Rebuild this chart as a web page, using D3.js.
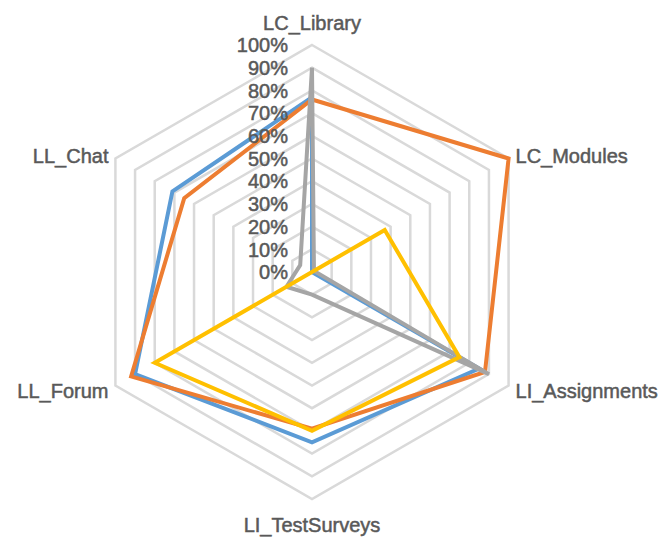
<!DOCTYPE html>
<html>
<head>
<meta charset="utf-8">
<script src="https://cdn.jsdelivr.net/npm/d3@7"></script>
<style>
  body { margin: 0; background: #fff; }
  text { font-family: "Liberation Sans", Arial, sans-serif; fill: #595959; stroke: #595959; stroke-width: 0.5px; }
</style>
</head>
<body>
<div id="chart-area"></div>
<script>
// radar of usage per tool
var categories = ["LC_Library", "LC_Modules", "LI_Assignments", "LI_TestSurveys", "LL_Forum", "LL_Chat"];
var blueValues   = [0.77, 0.00, 0.85, 0.75, 0.90, 0.71];
var orangeValues = [0.76, 1.00, 0.88, 0.69, 0.92, 0.65];
var grayValues   = [0.90, 0.01, 0.90, 0.10, 0.13, 0.06];
var yellowValues = [0.00, 0.37, 0.75, 0.70, 0.80, 0.00];
var tickValues = [0, 0.1, 0.2, 0.3, 0.4, 0.5, 0.6, 0.7, 0.8, 0.9, 1];

var series = [
	{ name: "blue", values: blueValues, color: "#5b9bd5" },
	{ name: "orange", values: orangeValues, color: "#ed7d31" },
	{ name: "gray", values: grayValues, color: "#a5a5a5" },
	{ name: "yellow", values: yellowValues, color: "#ffc000" }
];

var width = 671, height = 538;
var cx = 312, cy = 272, radius = 227;

let svg = d3.select("#chart-area").append("svg")
	.attr("width", width)
	.attr("height", height)

var g = svg.append("g")
	.attr("transform", "translate(" + cx + "," + cy + ")");

var r = d3.scaleLinear().domain([0, 1]).range([0, radius]);
var angle = d3.scalePoint().domain(categories).range([0, 2 * Math.PI * 5 / 6]);

var radial = d3.lineRadial()
	.angle(function(d, i) { return angle(categories[i]); })
	.radius(function(d) { return r(d); })
	.curve(d3.curveLinearClosed);

// grid rings
g.selectAll(".ring")
	.data(tickValues.slice(1))
	.enter().append("path")
	.attr("class", "ring")
	.attr("d", function(t) { return radial(categories.map(function() { return t; })); })
	.attr("fill", "none")
	.attr("stroke", "#d9d9d9")
	.attr("stroke-width", 2.5);

// series
g.selectAll(".series")
	.data(series)
	.enter().append("path")
	.attr("class", "series")
	.attr("d", function(d) { return radial(d.values); })
	.attr("fill", "none")
	.attr("stroke", function(d) { return d.color; })
	.attr("stroke-width", 4)
	.attr("stroke-linejoin", "miter");

// tick labels along the top axis
g.selectAll(".tick")
	.data(tickValues)
	.enter().append("text")
	.attr("class", "tick")
	.attr("x", -24)
	.attr("y", function(d) { return -r(d); })
	.attr("dy", "0.36em")
	.attr("text-anchor", "end")
	.style("font-size", "20px")
	.text(d3.format(".0%"));

// category labels
function labelPos(c) {
	var a = angle(c);
	return [Math.sin(a) * (radius + 8), -Math.cos(a) * (radius + 8)];
}

g.selectAll(".cat")
	.data(categories)
	.enter().append("text")
	.attr("class", "cat")
	.style("font-size", "20px")
	.attr("text-anchor", function(d) {
		var s = Math.sin(angle(d));
		if (Math.abs(s) < 0.01) return "middle";
		return s > 0 ? "start" : "end";
	})
	.attr("x", function(d) { return labelPos(d)[0]; })
	.attr("y", function(d) {
		var c = Math.cos(angle(d));
		if (c > 0.99) return -radius - 15;
		if (c < -0.99) return radius + 33;
		return labelPos(d)[1] + 1;
	})
	.attr("dy", function(d) {
		var c = Math.cos(angle(d));
		return Math.abs(c) > 0.99 ? 0 : "0.36em";
	})
	.text(function(d) { return d; });
</script>
</body>
</html>
